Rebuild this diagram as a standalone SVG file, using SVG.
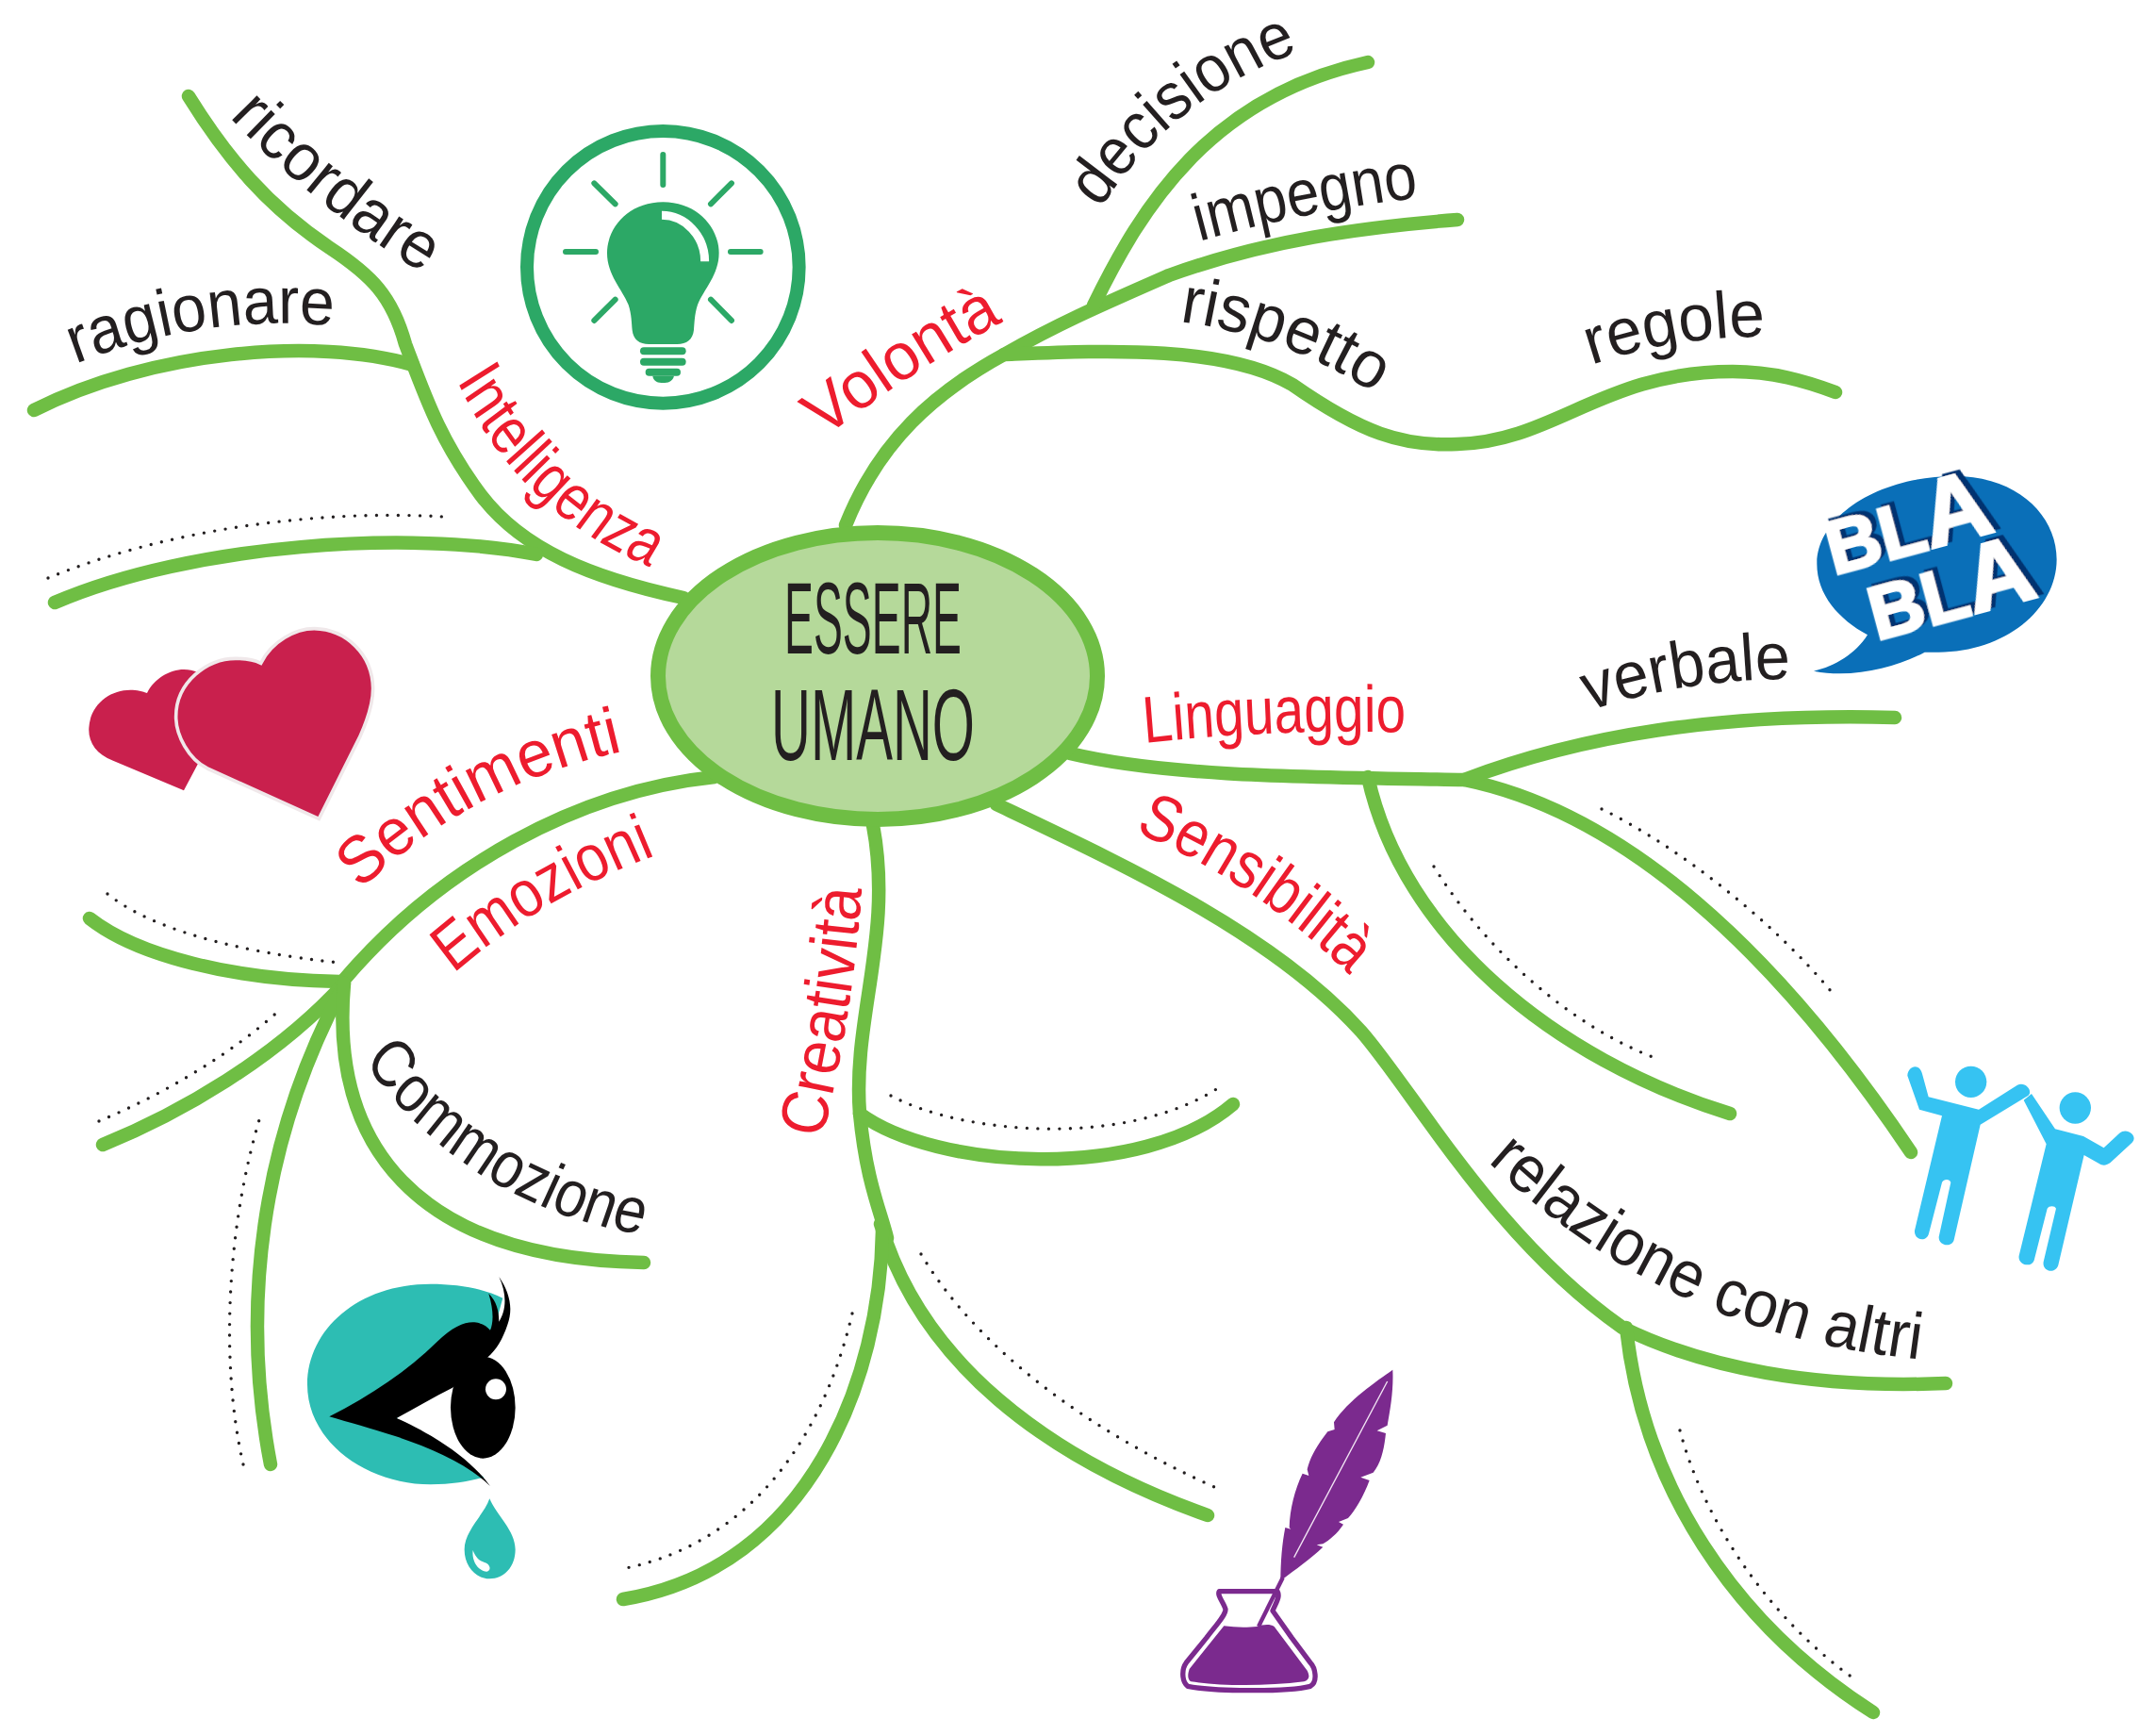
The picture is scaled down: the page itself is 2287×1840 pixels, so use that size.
<svg xmlns="http://www.w3.org/2000/svg" width="2287" height="1840" viewBox="0 0 2287 1840">
<style>
.br{fill:none;stroke:#6fbe44;stroke-width:14.5;stroke-linecap:round;stroke-linejoin:round}
.dot{fill:none;stroke:#231f20;stroke-width:3.4;stroke-linecap:round;stroke-dasharray:0 11.5}
.t{font-family:"Liberation Sans",sans-serif;font-size:70px}
.k{fill:#231f20}.r{fill:#ed1c2e}
.c{font-family:"Liberation Sans",sans-serif;font-size:107px;fill:#231f20;text-anchor:middle}
.bla{font-family:"Liberation Sans",sans-serif;font-weight:700;fill:#fff;stroke:#fff;stroke-width:9;filter:url(#sh)}
</style>
<defs>
<filter id="sh" x="-20%" y="-20%" width="140%" height="140%"><feDropShadow dx="18" dy="-8" stdDeviation="0" flood-color="#06326f"/></filter>
<path id="p1" d="M0,0 Q138,18 276,0 l30,0"/>
<path id="p2" d="M0,0 Q148,-34 296,0 l30,0"/>
<path id="p3" d="M0,0 Q177,58 354,0 l30,0"/>
<path id="p4" d="M0,0 Q118,-10 237,0 l30,0"/>
<path id="p5" d="M0,0 Q148,-48 296,0 l30,0"/>
<path id="p6" d="M0,0 Q134,-10 268,0 l30,0"/>
<path id="p7" d="M0,0 Q115,-26 230,0 l30,0"/>
<path id="p8" d="M0,0 Q97,-16 195,0 l30,0"/>
<path id="p9" d="M0,0 Q115,-18 230,0 l30,0"/>
<path id="p10" d="M0,0 Q171,-10 342,0 l30,0"/>
<path id="p11" d="M0,0 Q160,-28 319,0 l30,0"/>
<path id="p12" d="M0,0 Q274,92 548,0 l30,0"/>
<path id="p13" d="M0,0 Q148,12 296,0 l30,0"/>
<path id="p14" d="M0,0 Q165,-46 331,0 l30,0"/>
<path id="p15" d="M0,0 Q144,-24 288,0 l30,0"/>
<path id="p16" d="M0,0 Q213,80 426,0 l30,0"/>
</defs>
<rect width="2287" height="1840" fill="#fff"/>
<g id="connectors">
<path class="br" d="M897,557 C933,467 992,416 1065,376 C1123,343 1167,324 1240,292 C1342,255 1444,241 1546,233"/>
<path class="br" d="M1160,324 C1211,219 1284,102 1451,66"/>
<path class="br" d="M1065,376 C1167,372 1298,365 1371,408 C1444,459 1488,474 1546,471 C1650,468 1700,394 1838,394 C1880,394 1915,404 1947,416"/>
<path class="br" d="M725,634 C627,613 554,583 510,525 C467,467 452,423 430,365 C416,314 394,292 350,263 C284,219 241,168 200,102"/>
<path class="br" d="M438,387 C335,357 160,372 36,435"/>
<path class="br" d="M569,588 C438,562 204,576 58,639"/>
<path class="dot" d="M51,613 C175,562 335,540 470,548"/>
<path class="br" d="M758,824 C613,839 467,919 365,1039"/>
<path class="br" d="M95,974 C146,1014 248,1039 360,1041"/>
<path class="dot" d="M114,948 C160,985 248,1009 360,1021"/>
<path class="br" d="M109,1214 C190,1181 292,1123 365,1043"/>
<path class="dot" d="M105,1189 C175,1160 248,1116 299,1069"/>
<path class="br" d="M287,1553 C255,1386 277,1211 362,1050"/>
<path class="dot" d="M258,1553 C233,1444 241,1298 277,1181"/>
<path class="br" d="M365,1043 C350,1211 438,1335 683,1339"/>
<path class="br" d="M926,875 C948,992 904,1079 912,1181 C919,1254 934,1284 941,1313"/>
<path class="br" d="M912,1181 C992,1240 1211,1254 1308,1171"/>
<path class="dot" d="M945,1162 C1021,1203 1196,1218 1295,1152"/>
<path class="br" d="M934,1298 C977,1444 1109,1546 1281,1607"/>
<path class="dot" d="M977,1330 C1036,1429 1152,1517 1295,1580"/>
<path class="br" d="M936,1305 C934,1459 861,1663 661,1696"/>
<path class="dot" d="M904,1393 C875,1517 802,1634 664,1663"/>
<path class="br" d="M1057,853 C1196,919 1350,990 1444,1094 C1500,1158 1585,1313 1721,1408 C1809,1451 1925,1473 2064,1467"/>
<path class="br" d="M1725,1408 C1743,1575 1838,1721 1987,1816"/>
<path class="dot" d="M1782,1517 C1809,1619 1882,1721 1969,1782"/>
<path class="br" d="M1135,799 C1240,824 1386,824 1553,827 C1721,861 1882,1006 2027,1222"/>
<path class="br" d="M1553,827 C1677,780 1823,756 2010,761"/>
<path class="dot" d="M1699,858 C1779,897 1882,977 1947,1057"/>
<path class="br" d="M1451,824 C1488,992 1648,1123 1835,1181"/>
<path class="dot" d="M1521,919 C1575,1006 1663,1087 1758,1123"/>
</g>
<g id="center">
<ellipse cx="931" cy="717" rx="233" ry="152" fill="#b5d99a" stroke="#6fbe44" stroke-width="16"/>
<text class="c" x="926" y="693" textLength="188" lengthAdjust="spacingAndGlyphs">ESSERE</text>
<text class="c" x="926" y="806" textLength="216" lengthAdjust="spacingAndGlyphs">UMANO</text>
</g>
<g id="n-ricordare" transform="translate(243 124) rotate(38.8) scale(.96 1)"><text class="t k"><textPath href="#p1">ricordare</textPath></text></g>
<g id="n-ragionare" transform="translate(80 386) rotate(-8.3) scale(.945 1)"><text class="t k"><textPath href="#p2">ragionare</textPath></text></g>
<g id="n-intelligenza" transform="translate(485 404) rotate(43.6) scale(.815 1)"><text class="t r"><textPath href="#p3">Intelligenza</textPath></text></g>
<g id="n-volonta" transform="translate(874 465) rotate(-33) scale(.975 1)"><text class="t r"><textPath href="#p4">Volontà</textPath></text></g>
<g id="n-decisione" transform="translate(1167 222) rotate(-38) scale(.925 1)"><text class="t k"><textPath href="#p5">decisione</textPath></text></g>
<g id="n-impegno" transform="translate(1272 256) rotate(-11.2) scale(.886 1)"><text class="t k"><textPath href="#p6">impegno</textPath></text></g>
<g id="n-rispetto" transform="translate(1251 341) rotate(20.4) scale(.97 1)"><text class="t k"><textPath href="#p7">rispetto</textPath></text></g>
<g id="n-regole" transform="translate(1688 387) rotate(-9.2) scale(.965 1)"><text class="t k"><textPath href="#p8">regole</textPath></text></g>
<g id="n-verbale" transform="translate(1685 754) rotate(-8.9) scale(.95 1)"><text class="t k"><textPath href="#p9">verbale</textPath></text></g>
<g id="n-linguaggio" transform="translate(1214 788) rotate(-2.3) scale(.81 1)"><text class="t r"><textPath href="#p10">Linguaggio</textPath></text></g>
<g id="n-sensibilita" transform="translate(1203 882) rotate(33.7) scale(.865 1)"><text class="t r"><textPath href="#p11">Sensibilità</textPath></text></g>
<g id="n-relazione" transform="translate(1578 1232) rotate(24.2) scale(.935 1)"><text class="t k"><textPath href="#p12">relazione con altri</textPath></text></g>
<g id="n-creativita" transform="translate(872 1208) rotate(-81) scale(.91 1)"><text class="t r"><textPath href="#p13">Creatività</textPath></text></g>
<g id="n-sentimenti" transform="translate(382 944) rotate(-27.6) scale(.966 1)"><text class="t r"><textPath href="#p14">Sentimenti</textPath></text></g>
<g id="n-emozioni" transform="translate(481 1033) rotate(-30.3) scale(.87 1)"><text class="t r"><textPath href="#p15">Emozioni</textPath></text></g>
<g id="n-commozione" transform="translate(386 1126) rotate(30.6) scale(.857 1)"><text class="t k"><textPath href="#p16">Commozione</textPath></text></g>

<g id="icon-bulb" transform="translate(520 110) scale(.3333)">
<circle cx="550" cy="520" r="433" fill="none" stroke="#2ca866" stroke-width="42"/>
<g stroke="#2ca866" stroke-width="18" stroke-linecap="round"><path d="M550,162V258M331,253L398,319M768,253L702,319M240,471H336M765,471H860M398,623L331,690M702,623L768,690"/></g>
<path fill="#2ca866" d="M550,313 C440,313 372,395 372,475 C372,545 420,590 440,640 C450,670 450,700 452,720 C455,750 475,765 505,765 L595,765 C625,765 645,750 648,720 C650,700 650,670 660,640 C680,590 728,545 728,475 C728,395 660,313 550,313Z"/>
<path fill="none" stroke="#fff" stroke-width="27" d="M546,355 C620,355 683,420 683,502"/>
<g fill="#2ca866"><rect x="477" y="775" width="146" height="24" rx="12"/><rect x="477" y="809" width="146" height="24" rx="12"/><rect x="494" y="842" width="112" height="24" rx="12"/><path d="M517,866 L585,866 C580,885 565,888 550,888 C535,888 520,885 517,866Z"/></g>
</g>

<g id="icon-bla" transform="translate(1900 490) scale(.3333)">
<path fill="#0a6fb8" d="M520,45 C720,45 845,170 845,310 C845,470 680,605 470,605 L425,605 C340,650 200,690 72,665 C140,650 205,610 243,550 C150,500 80,420 82,320 C85,170 280,45 520,45Z"/>
<text class="bla" font-size="240" transform="translate(135 360) rotate(-15)">BL<tspan font-size="300">A</tspan></text>
<text class="bla" font-size="240" transform="translate(272 568) rotate(-15)">BL<tspan font-size="300">A</tspan></text>
</g>

<g id="icon-eye" transform="translate(300 1340) scale(.3333)">
<path fill="#2dbdb3" d="M470,65 C240,65 78,210 78,385 C78,570 270,703 470,703 C540,703 600,692 640,680 L362,492 L650,290 L700,110 C640,80 560,65 470,65Z"/>
<ellipse cx="637" cy="458" rx="103" ry="162"/>
<path d="M148,487 C280,420 400,340 490,250 C540,200 580,185 610,187 C635,190 650,200 660,212 C670,190 672,150 655,95 C680,120 688,150 688,185 C710,150 715,100 688,42 C720,90 735,140 715,195 C700,240 680,275 650,300 L540,395 C480,425 420,460 362,492 C450,530 590,610 660,708 C590,640 480,590 360,550 C280,525 210,505 148,487Z"/>
<circle cx="678" cy="400" r="33" fill="#fff"/>
<path fill="#2dbdb3" d="M658,748 C640,800 578,850 578,910 C578,965 615,1003 658,1003 C705,1003 740,965 740,910 C740,850 680,800 658,748Z"/>
<path fill="#fff" d="M605,912 C600,950 625,980 650,980 C665,975 660,955 640,950 C620,945 610,925 605,912Z"/>
</g>

<g id="icon-ink" transform="translate(1230 1430) scale(.3333)">
<path fill="#7b2a8e" d="M742,68 C690,105 600,165 555,235 L557,258 L535,265 C500,310 480,345 470,385 L475,405 L455,398 C430,450 415,510 413,570 L418,575 L400,570 C390,620 385,680 385,740 L395,732 C430,705 480,670 520,632 L500,625 L520,622 C540,610 565,590 585,560 L570,552 L600,540 C620,520 650,470 668,420 L640,410 L680,395 C705,365 715,320 720,270 L692,262 L725,245 C735,190 745,130 742,68Z"/>
<path stroke="#f3e6f5" stroke-width="4" d="M725,105L428,665"/>
<path stroke="#7b2a8e" stroke-width="13" d="M392,730L315,885"/>
<path fill="none" stroke="#7b2a8e" stroke-width="16" stroke-linejoin="round" d="M190,773 C182,785 205,810 210,830 C210,850 180,880 150,920 L85,1000 C70,1020 70,1060 90,1075 C160,1090 400,1095 480,1075 C505,1060 495,1015 480,1000 L420,920 L360,835 C370,810 385,790 375,773Z"/>
<path fill="#7b2a8e" d="M205,883 C240,888 280,888 310,885 C325,880 350,875 365,885 L470,1025 C480,1045 475,1055 460,1060 C340,1075 200,1075 100,1060 C90,1055 88,1040 95,1020Z"/>
</g>

<g id="icon-people" transform="translate(2000 1110) scale(.3333)" fill="#36c3f2">
<circle cx="272" cy="112" r="50"/>
<path d="M70,92 C72,60 110,50 118,90 L137,160 L297,200 L420,122 C445,110 470,140 455,155 L302,248 L218,615 C212,640 168,635 170,605 L208,432 C205,420 185,420 180,432 L138,595 C130,625 90,615 93,585 L180,220 L108,200Z"/>
<circle cx="604" cy="195" r="50"/>
<path d="M440,170 L465,150 L540,262 L630,285 L695,322 L745,275 C770,255 805,285 785,305 L715,370 C700,380 690,378 680,372 L632,345 L550,695 C540,725 498,715 503,685 L543,515 C540,505 520,505 515,515 L473,680 C465,705 420,695 425,665 L512,310Z"/>
</g>

<g id="icon-hearts" transform="translate(80 650) scale(.3333)" fill="#c9204d">
<path d="M345,565 L120,470 C65,450 40,410 43,365 C48,290 110,245 175,245 C195,245 215,250 228,255 C250,210 300,180 345,180 C380,182 395,190 400,200 L390,480Z"/>
<path stroke="#f0e8ea" stroke-width="11" d="M775,655 L420,495 C360,465 320,390 320,330 C320,220 420,145 510,145 C545,145 570,150 590,160 C625,90 700,50 760,50 C860,52 945,130 947,240 C947,290 930,340 905,395Z"/>
</g>
</svg>
